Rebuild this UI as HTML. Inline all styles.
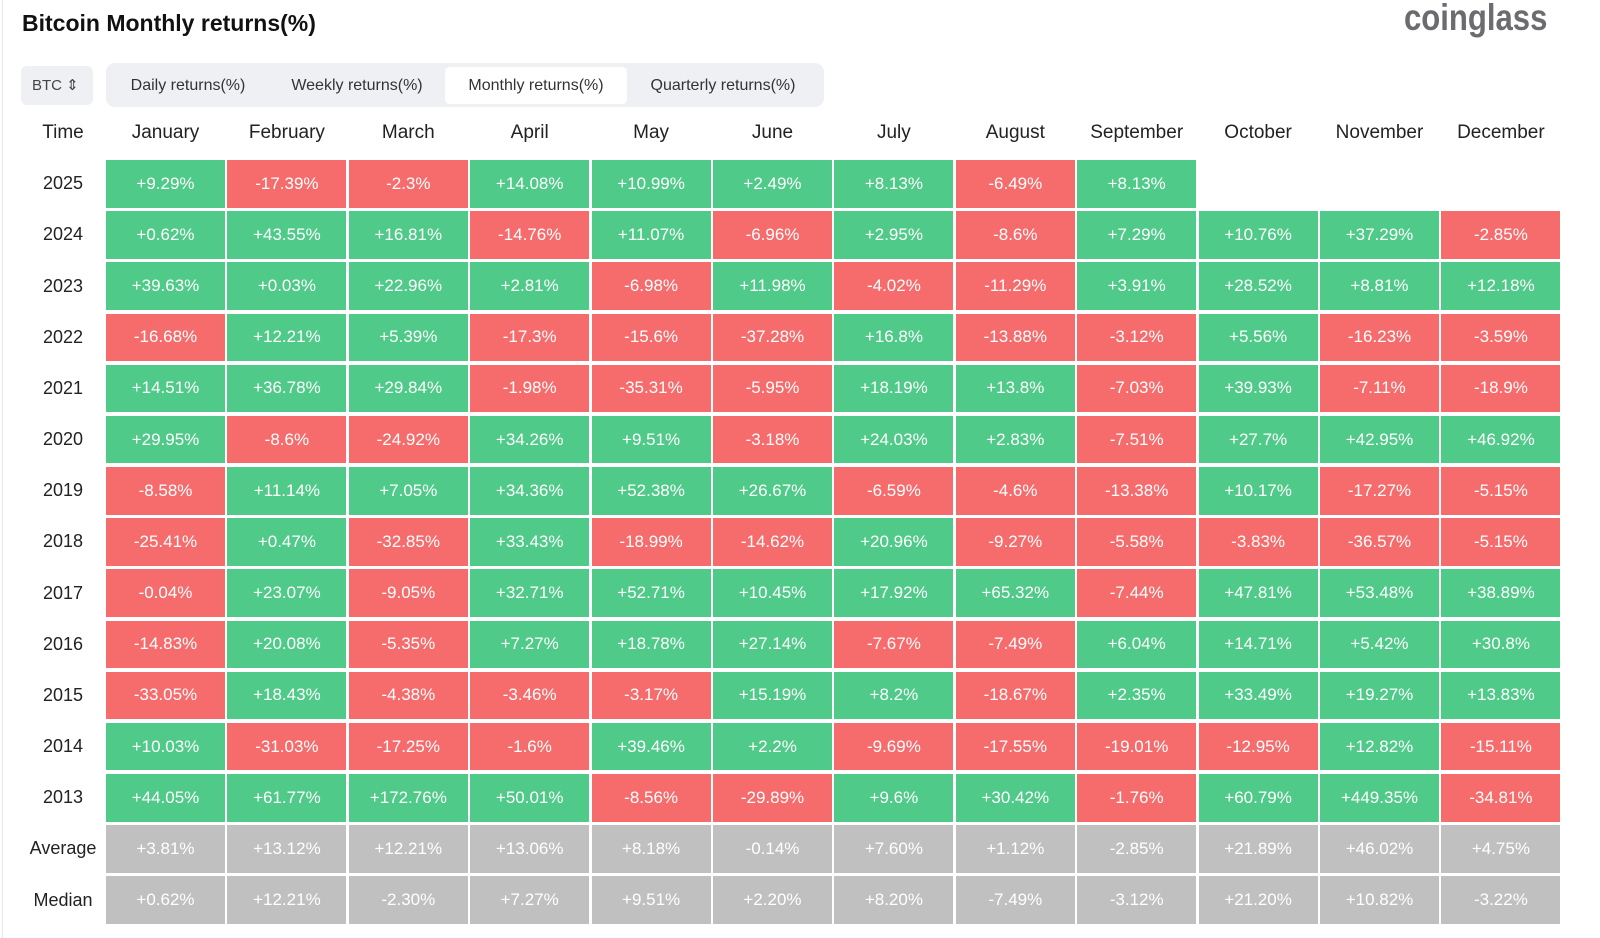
<!DOCTYPE html><html><head><meta charset="utf-8"><style>
body{margin:0;width:1600px;height:938px;background:#fff;font-family:"Liberation Sans",sans-serif;position:relative;overflow:hidden}
.bl{position:absolute;left:2px;top:0;width:1px;height:938px;background:#e6e6e6}
.title{position:absolute;left:22px;top:10px;font-size:23px;font-weight:bold;color:#111;white-space:nowrap}
.logo{position:absolute;left:1404px;top:-3px;font-size:37px;font-weight:bold;color:#6b6b70;transform:scaleX(0.84);transform-origin:0 0;white-space:nowrap}
.btc{position:absolute;left:21px;top:66px;width:72px;height:39px;background:#eef0f3;border-radius:6px;font-size:15px;color:#444;line-height:39px;text-indent:11px}
.tabs{position:absolute;left:106px;top:63px;width:718px;height:44px;background:#eef0f3;border-radius:9px}
.tab{position:absolute;top:4px;height:37px;line-height:37px;font-size:16px;color:#333;text-align:center;white-space:nowrap}
.act{background:#fff;border-radius:5px}
.c{position:absolute;display:flex;align-items:center;justify-content:center;font-size:17px;white-space:nowrap}
.h{color:#222;font-size:19px}
.y{color:#222;font-size:18px}
.g{background:#4fca88;color:#fff}.r{background:#f66c6c;color:#fff}.a{background:#c0c0c0;color:#fff}
</style></head><body>
<div class="bl"></div>
<div class="title">Bitcoin Monthly returns(%)</div>
<div class="logo">coinglass</div>
<div class="btc">BTC ⇕</div>
<div class="tabs">
<div class="tab" style="left:4px;width:156px">Daily returns(%)</div>
<div class="tab" style="left:170px;width:162px">Weekly returns(%)</div>
<div class="tab act" style="left:339px;width:182px">Monthly returns(%)</div>
<div class="tab" style="left:525px;width:184px">Quarterly returns(%)</div>
</div>
<div id="g"></div>
<script>
const m=["Time","January","February","March","April","May","June","July","August","September","October","November","December"];
const d=[["2025","+9.29%","-17.39%","-2.3%","+14.08%","+10.99%","+2.49%","+8.13%","-6.49%","+8.13%","","",""],
["2024","+0.62%","+43.55%","+16.81%","-14.76%","+11.07%","-6.96%","+2.95%","-8.6%","+7.29%","+10.76%","+37.29%","-2.85%"],
["2023","+39.63%","+0.03%","+22.96%","+2.81%","-6.98%","+11.98%","-4.02%","-11.29%","+3.91%","+28.52%","+8.81%","+12.18%"],
["2022","-16.68%","+12.21%","+5.39%","-17.3%","-15.6%","-37.28%","+16.8%","-13.88%","-3.12%","+5.56%","-16.23%","-3.59%"],
["2021","+14.51%","+36.78%","+29.84%","-1.98%","-35.31%","-5.95%","+18.19%","+13.8%","-7.03%","+39.93%","-7.11%","-18.9%"],
["2020","+29.95%","-8.6%","-24.92%","+34.26%","+9.51%","-3.18%","+24.03%","+2.83%","-7.51%","+27.7%","+42.95%","+46.92%"],
["2019","-8.58%","+11.14%","+7.05%","+34.36%","+52.38%","+26.67%","-6.59%","-4.6%","-13.38%","+10.17%","-17.27%","-5.15%"],
["2018","-25.41%","+0.47%","-32.85%","+33.43%","-18.99%","-14.62%","+20.96%","-9.27%","-5.58%","-3.83%","-36.57%","-5.15%"],
["2017","-0.04%","+23.07%","-9.05%","+32.71%","+52.71%","+10.45%","+17.92%","+65.32%","-7.44%","+47.81%","+53.48%","+38.89%"],
["2016","-14.83%","+20.08%","-5.35%","+7.27%","+18.78%","+27.14%","-7.67%","-7.49%","+6.04%","+14.71%","+5.42%","+30.8%"],
["2015","-33.05%","+18.43%","-4.38%","-3.46%","-3.17%","+15.19%","+8.2%","-18.67%","+2.35%","+33.49%","+19.27%","+13.83%"],
["2014","+10.03%","-31.03%","-17.25%","-1.6%","+39.46%","+2.2%","-9.69%","-17.55%","-19.01%","-12.95%","+12.82%","-15.11%"],
["2013","+44.05%","+61.77%","+172.76%","+50.01%","-8.56%","-29.89%","+9.6%","+30.42%","-1.76%","+60.79%","+449.35%","-34.81%"],
["Average","+3.81%","+13.12%","+12.21%","+13.06%","+8.18%","-0.14%","+7.60%","+1.12%","-2.85%","+21.89%","+46.02%","+4.75%"],
["Median","+0.62%","+12.21%","-2.30%","+7.27%","+9.51%","+2.20%","+8.20%","-7.49%","-3.12%","+21.20%","+10.82%","-3.22%"]];
const X0=106,PX=121.4,W=119,Y0=160,PY=51.17,H=47.5;
let h="";
const cell=(x,y,w,hh,cls,t)=>`<div class="c ${cls}" style="left:${x}px;top:${y}px;width:${w}px;height:${hh}px">${t}</div>`;
m.forEach((t,i)=>{h+= i==0?cell(20,113,86,40,"h",t):cell(X0+(i-1)*PX,113,W,40,"h",t)});
d.forEach((r,j)=>{const y=Y0+j*PY;r.forEach((v,i)=>{
 if(i==0)h+=cell(20,y,86,H,"y",v);
 else if(v!=""){let c=r[0].length>4?"a":(v[0]=="-"?"r":"g");h+=cell(X0+(i-1)*PX,y,W,H,c,v)}})});
document.getElementById("g").innerHTML=h;
</script>
</body></html>
